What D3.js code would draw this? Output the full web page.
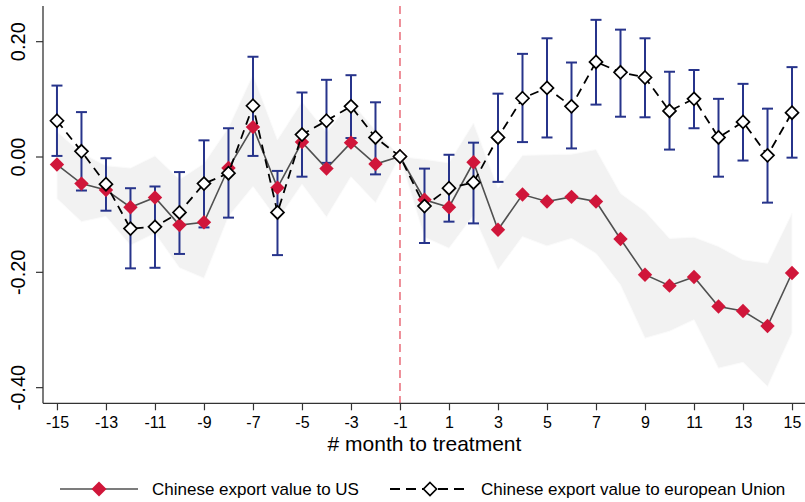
<!DOCTYPE html>
<html>
<head>
<meta charset="utf-8">
<script src="https://cdn.jsdelivr.net/npm/d3@7"></script>
<style>
  html, body { margin: 0; padding: 0; background: #fff; }
  svg { display: block; font-family: Arial, "Liberation Sans", Helvetica, sans-serif; }
</style>
</head>
<body>
<svg id="chart" width="805" height="502"></svg>
<script>
// Event-study estimates by month relative to treatment (-1 is the reference month)
const months = [-15, -14, -13, -12, -11, -10, -9, -8, -7, -6, -5, -4, -3, -2, -1,
                 0, 1, 2, 3, 4, 5, 6, 7, 8, 9, 10, 11, 12, 13, 14, 15];

// Chinese export value to US: point estimates and confidence band
const usValues = [-0.014, -0.047, -0.058, -0.088, -0.071, -0.119, -0.114, -0.020, 0.051, -0.054,
                  0.025, -0.021, 0.024, -0.013, 0.000,
                  -0.075, -0.088, -0.010, -0.127, -0.066, -0.078, -0.070, -0.078, -0.143, -0.205,
                  -0.224, -0.209, -0.260, -0.268, -0.294, -0.202];
const usUpper = [0.043, 0.006, -0.016, -0.020, 0.001, -0.040, -0.012, 0.050, 0.142, 0.029,
                 0.095, 0.042, 0.095, 0.045, 0.000,
                 -0.005, -0.011, 0.058, -0.055, 0.002, 0.003, 0.004, 0.012, -0.064, -0.095,
                 -0.142, -0.140, -0.156, -0.179, -0.185, -0.098];
const usLower = [-0.073, -0.113, -0.104, -0.154, -0.133, -0.193, -0.211, -0.104, -0.052, -0.110,
                 -0.048, -0.105, -0.035, -0.080, 0.000,
                 -0.140, -0.159, -0.102, -0.197, -0.139, -0.155, -0.142, -0.168, -0.223, -0.315,
                 -0.303, -0.283, -0.367, -0.357, -0.399, -0.306];

// Chinese export value to the European Union: point estimates and confidence intervals
const euValues = [0.062, 0.009, -0.048, -0.125, -0.122, -0.097, -0.047, -0.029, 0.088, -0.097,
                  0.038, 0.062, 0.087, 0.033, 0.000,
                  -0.086, -0.055, -0.045, 0.033, 0.101, 0.119, 0.087, 0.164, 0.146, 0.137,
                  0.079, 0.100, 0.033, 0.060, 0.002, 0.076];
const euUpper = [0.123, 0.077, -0.003, -0.055, -0.052, -0.027, 0.028, 0.049, 0.173, -0.025,
                 0.111, 0.133, 0.141, 0.094, 0.000,
                 -0.021, 0.003, 0.024, 0.109, 0.178, 0.205, 0.163, 0.237, 0.220, 0.205,
                 0.147, 0.150, 0.100, 0.126, 0.083, 0.155];
const euLower = [0.001, -0.059, -0.094, -0.194, -0.193, -0.169, -0.123, -0.106, 0.001, -0.171,
                 -0.035, -0.011, 0.032, -0.031, 0.000,
                 -0.150, -0.113, -0.116, -0.044, 0.025, 0.033, 0.014, 0.090, 0.069, 0.068,
                 0.012, 0.049, -0.035, -0.007, -0.080, -0.002];

const xTicks = [-15, -13, -11, -9, -7, -5, -3, -1, 1, 3, 5, 7, 9, 11, 13, 15];
const yTicks = [0.20, 0.00, -0.20, -0.40];
const treatmentMonth = -1;
const xTitle = "# month to treatment";
const legendLabels = ["Chinese export value to US", "Chinese export value to european Union"];

const colors = {
  band: "#f2f2f2",
  usLine: "#505050",
  usMarker: "#d0163a",
  euLine: "#000000",
  ci: "#27348b",
  vline: "#ea7480",
  axis: "#333333"
};

const svg = d3.select("#chart");

const x = d3.scaleLinear().domain([-15.57, 15.53]).range([43, 805]);
const y = d3.scaleLinear().domain([-0.428, 0.261]).range([403.3, 6]);

const us = months.map((m, i) => ({ m, v: usValues[i], hi: usUpper[i], lo: usLower[i] }));
const eu = months.map((m, i) => ({ m, v: euValues[i], hi: euUpper[i], lo: euLower[i] }));

// Confidence band for the US series
svg.append("path")
  .datum(us)
  .attr("fill", colors.band)
  .attr("stroke", "#fbfbfb")
  .attr("stroke-width", 1)
  .attr("d", d3.area().x(d => x(d.m)).y0(d => y(d.lo)).y1(d => y(d.hi)));

// Treatment line
svg.append("line")
  .attr("x1", x(treatmentMonth)).attr("x2", x(treatmentMonth))
  .attr("y1", y.range()[1]).attr("y2", y.range()[0])
  .attr("stroke", colors.vline)
  .attr("stroke-width", 1.6)
  .attr("stroke-dasharray", "8,5");

// Axes
const xAxis = d3.axisBottom(x).tickValues(xTicks).tickFormat(d => String(d))
  .tickSize(7).tickPadding(6);
const gx = svg.append("g").attr("transform", `translate(0,${y.range()[0]})`).call(xAxis);
gx.select(".domain").remove();
gx.selectAll(".tick line").attr("stroke", colors.axis).attr("stroke-width", 1.2);
gx.selectAll(".tick text").attr("fill", "#000").attr("font-size", 16)
  .attr("font-family", "Arial, 'Liberation Sans', sans-serif");

const yAxis = d3.axisLeft(y).tickValues(yTicks).tickFormat(d => d.toFixed(2)).tickSize(7);
const gy = svg.append("g").attr("transform", `translate(${x.range()[0]},0)`).call(yAxis);
gy.select(".domain").remove();
gy.selectAll(".tick line").attr("stroke", colors.axis).attr("stroke-width", 1.2);
gy.selectAll(".tick text")
  .attr("fill", "#000")
  .attr("font-size", 20)
  .attr("font-family", "Arial, 'Liberation Sans', sans-serif")
  .attr("text-anchor", "middle")
  .attr("x", null).attr("dy", null)
  .attr("transform", "translate(-18,0) rotate(-90)");

// Axis lines
svg.append("line")
  .attr("x1", x.range()[0]).attr("x2", x.range()[0])
  .attr("y1", y.range()[1]).attr("y2", y.range()[0])
  .attr("stroke", colors.axis).attr("stroke-width", 1.3);
svg.append("line")
  .attr("x1", x.range()[0]).attr("x2", x.range()[1])
  .attr("y1", y.range()[0]).attr("y2", y.range()[0])
  .attr("stroke", colors.axis).attr("stroke-width", 1.3);

svg.append("text")
  .attr("x", (x(-15) + x(15)) / 2).attr("y", 451)
  .attr("text-anchor", "middle")
  .attr("font-size", 21)
  .text(xTitle);

// EU confidence intervals
const capHalf = 5.5;
const ci = svg.append("g").attr("stroke", colors.ci).attr("stroke-width", 2).attr("fill", "none");
eu.filter(d => d.hi !== d.lo).forEach(d => {
  ci.append("line").attr("x1", x(d.m)).attr("x2", x(d.m)).attr("y1", y(d.hi)).attr("y2", y(d.lo));
  ci.append("line").attr("x1", x(d.m) - capHalf).attr("x2", x(d.m) + capHalf).attr("y1", y(d.hi)).attr("y2", y(d.hi));
  ci.append("line").attr("x1", x(d.m) - capHalf).attr("x2", x(d.m) + capHalf).attr("y1", y(d.lo)).attr("y2", y(d.lo));
});

const line = d3.line().x(d => x(d.m)).y(d => y(d.v));

// US series
svg.append("path").datum(us)
  .attr("fill", "none").attr("stroke", colors.usLine).attr("stroke-width", 1.6)
  .attr("d", line);

const diamond = r => `M0,${-r}L${r},0L0,${r}L${-r},0Z`;

svg.append("g").selectAll("path").data(us).join("path")
  .attr("transform", d => `translate(${x(d.m)},${y(d.v)})`)
  .attr("d", diamond(7.2))
  .attr("fill", colors.usMarker);

// EU series
svg.append("path").datum(eu)
  .attr("fill", "none").attr("stroke", colors.euLine).attr("stroke-width", 1.8)
  .attr("stroke-dasharray", "9,6")
  .attr("d", line);

svg.append("g").selectAll("path").data(eu).join("path")
  .attr("transform", d => `translate(${x(d.m)},${y(d.v)})`)
  .attr("d", diamond(6.5))
  .attr("fill", "#fff")
  .attr("stroke", "#000")
  .attr("stroke-width", 1.7);

// Legend
const ly = 489;
const leg = svg.append("g");
leg.append("line").attr("x1", 60).attr("x2", 138).attr("y1", ly).attr("y2", ly)
  .attr("stroke", colors.usLine).attr("stroke-width", 1.6);
leg.append("path").attr("transform", `translate(99,${ly})`).attr("d", diamond(7.5))
  .attr("fill", colors.usMarker);
leg.append("text").attr("x", 152).attr("y", ly + 6).attr("font-size", 17).text(legendLabels[0]);

leg.append("line").attr("x1", 390).attr("x2", 470).attr("y1", ly).attr("y2", ly)
  .attr("stroke", colors.euLine).attr("stroke-width", 1.8).attr("stroke-dasharray", "10,6");
leg.append("path").attr("transform", `translate(430,${ly})`).attr("d", diamond(6.5))
  .attr("fill", "#fff").attr("stroke", "#000").attr("stroke-width", 1.7);
leg.append("text").attr("x", 481).attr("y", ly + 6).attr("font-size", 17).text(legendLabels[1]);
</script>
</body>
</html>
